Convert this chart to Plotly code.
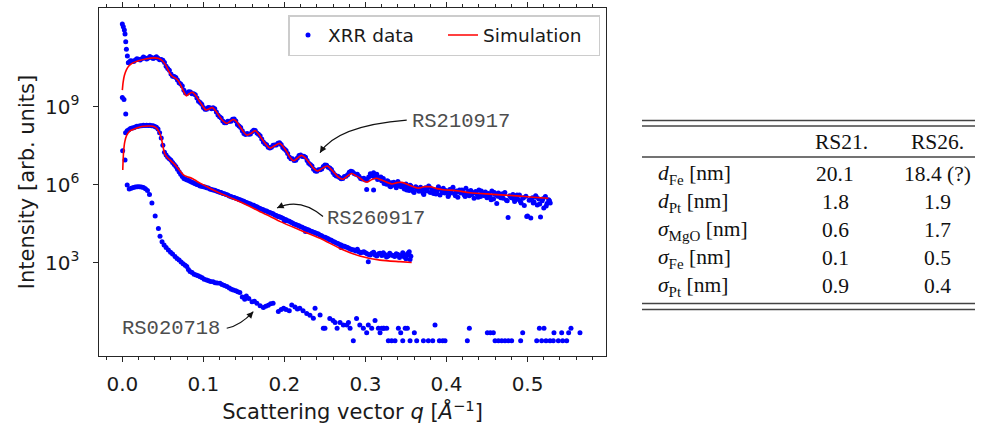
import math
import plotly.graph_objects as go

# ---------------------------------------------------------------- data
# all intensities are stored as log10(I)
rs21_spike_q = [0.000, 0.0012, 0.0025, 0.0033, 0.0042, 0.0050, 0.0062, 0.0074, 0.000, 0.002, 0.0042, 0.3015, 0.310]
rs21_spike_logI = [12.18, 12.08, 11.95, 11.80, 11.50, 11.21, 10.95, 10.69, 9.36, 9.28, 8.72, 5.82, 5.80]

rs21_q = [0.008, 0.012, 0.016, 0.020, 0.024, 0.028, 0.032, 0.036, 0.040, 0.044,
          0.048, 0.052, 0.056, 0.060, 0.064, 0.068, 0.072, 0.076, 0.080, 0.084,
          0.088, 0.092, 0.096, 0.100, 0.104, 0.108, 0.112, 0.116, 0.120, 0.124,
          0.128, 0.132, 0.136, 0.140, 0.144, 0.148, 0.152, 0.156, 0.160, 0.164,
          0.168, 0.172, 0.176, 0.180, 0.184, 0.188, 0.192, 0.196, 0.200, 0.204,
          0.208, 0.212, 0.216, 0.220, 0.224, 0.228, 0.232, 0.236, 0.240, 0.244,
          0.248, 0.252, 0.256, 0.260, 0.264, 0.268, 0.272, 0.276, 0.280, 0.284,
          0.288, 0.292, 0.296, 0.300, 0.304]
rs21_logI = [10.70, 10.76, 10.80, 10.83, 10.85, 10.88, 10.88, 10.90, 10.89, 10.87,
             10.82, 10.70, 10.47, 10.26, 10.16, 10.03, 9.88, 9.64, 9.52, 9.57,
             9.50, 9.34, 9.16, 8.97, 8.90, 8.96, 8.96, 8.80, 8.62, 8.45,
             8.38, 8.44, 8.52, 8.45, 8.26, 8.08, 7.93, 7.94, 8.04, 8.09,
             7.94, 7.76, 7.58, 7.44, 7.44, 7.53, 7.60, 7.55, 7.37, 7.20,
             7.00, 6.93, 7.03, 7.14, 7.10, 6.93, 6.78, 6.60, 6.52, 6.58,
             6.70, 6.75, 6.64, 6.47, 6.34, 6.28, 6.24, 6.33, 6.48, 6.50,
             6.40, 6.33, 6.22, 6.18, 6.30]

rs21_mid_q = [0.010, 0.014, 0.018, 0.022, 0.026, 0.030, 0.034, 0.038, 0.042, 0.046,
              0.050, 0.054, 0.058, 0.062, 0.066, 0.070, 0.074, 0.078, 0.082, 0.086,
              0.090, 0.094, 0.098, 0.102, 0.106, 0.110, 0.114, 0.118, 0.122, 0.126,
              0.130, 0.134, 0.138, 0.142, 0.146, 0.150, 0.154, 0.158, 0.162, 0.166,
              0.170, 0.174, 0.178, 0.182, 0.186, 0.190, 0.194, 0.198, 0.202, 0.206,
              0.210, 0.214, 0.218, 0.222, 0.226, 0.230, 0.234, 0.238, 0.242, 0.246,
              0.250, 0.254, 0.258, 0.262, 0.266, 0.270, 0.274, 0.278, 0.282, 0.286,
              0.290, 0.294, 0.298, 0.302]
rs21_mid_logI = [10.77, 10.74, 10.85, 10.80, 10.91, 10.84, 10.93, 10.86, 10.92, 10.81,
                 10.79, 10.56, 10.40, 10.17, 10.13, 9.92, 9.80, 9.53, 9.58, 9.50,
                 9.46, 9.21, 9.10, 8.90, 8.97, 8.92, 8.92, 8.68, 8.57, 8.38,
                 8.44, 8.44, 8.53, 8.32, 8.20, 7.97, 7.97, 7.95, 8.10, 7.99,
                 7.88, 7.64, 7.54, 7.41, 7.52, 7.53, 7.62, 7.43, 7.32, 7.07,
                 7.00, 6.94, 7.12, 7.09, 7.06, 6.83, 6.72, 6.53, 6.58, 6.61,
                 6.76, 6.67, 6.59, 6.38, 6.33, 6.23, 6.32, 6.38, 6.52, 6.43,
                 6.40, 6.24, 6.25, 6.20]

rs21_tail_q = [0.306, 0.308, 0.310, 0.312, 0.314, 0.316, 0.318, 0.320, 0.322, 0.324,
               0.326, 0.328, 0.330, 0.332, 0.334, 0.336, 0.338, 0.340, 0.342, 0.344,
               0.346, 0.348, 0.350, 0.352, 0.354, 0.356, 0.358, 0.360, 0.362, 0.364,
               0.366, 0.368, 0.370, 0.372, 0.374, 0.376, 0.378, 0.380, 0.382, 0.384,
               0.386, 0.388, 0.390, 0.392, 0.394, 0.396, 0.398, 0.400, 0.402, 0.404,
               0.406, 0.408, 0.410, 0.412, 0.414, 0.416, 0.418, 0.420, 0.422, 0.424,
               0.426, 0.428, 0.430, 0.432, 0.434, 0.436, 0.438, 0.440, 0.442, 0.444,
               0.446, 0.448, 0.450, 0.452, 0.454, 0.456, 0.458, 0.460, 0.462, 0.464,
               0.466, 0.468, 0.470, 0.472, 0.474, 0.476, 0.478, 0.480, 0.482, 0.484,
               0.486, 0.488, 0.490, 0.492, 0.494, 0.496, 0.498, 0.500, 0.502, 0.504,
               0.506, 0.508, 0.510, 0.512, 0.514, 0.516, 0.518, 0.520, 0.522, 0.524,
               0.526, 0.528]
rs21_tail_logI = [6.42, 6.38, 6.46, 6.33, 6.40, 6.28, 6.22, 6.15, 6.24, 6.10,
                  6.02, 6.12, 5.95, 6.08, 5.98, 6.05, 5.88, 6.12, 6.00, 5.92,
                  5.98, 5.84, 6.03, 5.90, 5.78, 5.95, 5.86, 5.70, 5.92, 5.82,
                  5.75, 5.90, 5.80, 5.62, 5.88, 5.76, 5.95, 5.70, 5.84, 5.66,
                  5.80, 5.72, 5.92, 5.60, 5.78, 5.86, 5.68, 5.74, 5.55, 5.82,
                  5.70, 5.90, 5.64, 5.76, 5.52, 5.80, 5.68, 5.73, 5.60, 5.86,
                  5.66, 5.58, 5.78, 5.70, 5.48, 5.74, 5.62, 5.80, 5.55, 5.68,
                  5.60, 5.72, 5.50, 5.66, 5.58, 5.76, 5.45, 5.62, 5.28, 5.68,
                  5.55, 5.64, 5.48, 5.70, 5.40, 4.74, 5.58, 5.50, 5.62, 5.35,
                  5.52, 5.44, 5.60, 5.30, 5.48, 5.20, 5.56, 4.80, 5.40, 4.72,
                  5.50, 5.34, 5.58, 5.22, 5.45, 4.76, 5.38, 5.10, 5.55, 5.28,
                  5.42, 5.30]

rs21_tail2_q = [0.307, 0.311, 0.315, 0.319, 0.323, 0.327, 0.331, 0.335, 0.339, 0.343,
                0.347, 0.351, 0.355, 0.359, 0.363, 0.367, 0.371, 0.375, 0.379, 0.383,
                0.387, 0.391, 0.395, 0.399, 0.403, 0.407, 0.411, 0.415, 0.419, 0.423,
                0.427, 0.431, 0.435, 0.439, 0.443, 0.447, 0.451, 0.455, 0.459, 0.463,
                0.467, 0.471, 0.475, 0.479, 0.483, 0.487, 0.491, 0.495, 0.499, 0.503,
                0.507, 0.511, 0.515, 0.519, 0.523, 0.527]
rs21_tail2_logI = [6.35, 6.30, 6.20, 6.30, 6.05, 6.15, 5.92, 6.10, 5.95, 6.02,
                   5.90, 5.80, 5.98, 5.74, 5.88, 5.85, 5.68, 5.82, 5.90, 5.72,
                   5.64, 5.85, 5.70, 5.78, 5.62, 5.84, 5.58, 5.72, 5.80, 5.55,
                   5.74, 5.62, 5.68, 5.52, 5.76, 5.58, 5.64, 5.42, 5.70, 5.56,
                   5.50, 5.66, 5.38, 5.55, 5.46, 5.60, 5.36, 5.50, 4.78, 5.42,
                   5.30, 5.52, 5.26, 5.46, 5.18, 5.38]

rs21_sim_q = [0.000, 0.001, 0.0025, 0.005, 0.008, 0.012, 0.020, 0.030, 0.039, 0.045,
              0.049, 0.0535, 0.057, 0.060, 0.063, 0.066, 0.069, 0.072, 0.0755, 0.079,
              0.0825, 0.0864, 0.0905, 0.0946, 0.099, 0.103, 0.107, 0.111, 0.115, 0.119,
              0.124, 0.1285, 0.133, 0.137, 0.141, 0.145, 0.149, 0.1535, 0.159, 0.164,
              0.168, 0.172, 0.177, 0.182, 0.188, 0.194, 0.198, 0.203, 0.207, 0.211,
              0.216, 0.221, 0.226, 0.2316, 0.236, 0.2406, 0.247, 0.253, 0.258, 0.2624,
              0.267, 0.272, 0.2775, 0.283, 0.288, 0.293, 0.2975, 0.302, 0.308, 0.3135,
              0.320, 0.3324, 0.339, 0.345, 0.355, 0.365, 0.372, 0.380, 0.388, 0.396,
              0.4126, 0.429, 0.458, 0.4866, 0.507, 0.5256]
rs21_sim_logI = [9.64, 9.95, 10.20, 10.42, 10.57, 10.67, 10.77, 10.85, 10.88, 10.86,
                 10.78, 10.60, 10.38, 10.22, 10.14, 10.09, 10.00, 9.83, 9.60, 9.42,
                 9.50, 9.56, 9.43, 9.24, 9.03, 8.88, 8.92, 8.97, 8.85, 8.67,
                 8.46, 8.36, 8.44, 8.51, 8.43, 8.24, 8.06, 7.91, 7.98, 8.08,
                 7.95, 7.77, 7.56, 7.41, 7.50, 7.59, 7.48, 7.26, 7.05, 6.92,
                 7.02, 7.13, 7.02, 6.81, 6.63, 6.53, 6.64, 6.72, 6.58, 6.43,
                 6.28, 6.21, 6.33, 6.43, 6.35, 6.26, 6.15, 6.10, 6.20, 6.25,
                 6.18, 6.03, 6.08, 6.09, 5.97, 5.87, 5.92, 5.92, 5.85, 5.81,
                 5.77, 5.69, 5.63, 5.57, 5.52, 5.48]

rs26_q = [0.0004, 0.0033,
          0.004, 0.008, 0.012, 0.016, 0.020, 0.024, 0.028, 0.032, 0.036, 0.040,
          0.044, 0.048, 0.052, 0.056, 0.060, 0.064, 0.068, 0.072, 0.076, 0.080,
          0.084, 0.088, 0.092, 0.096, 0.100, 0.104, 0.108, 0.112, 0.116, 0.120,
          0.124, 0.128, 0.132, 0.136, 0.140, 0.144, 0.148, 0.152, 0.156, 0.160,
          0.164, 0.168, 0.172, 0.176, 0.180, 0.184, 0.188, 0.192, 0.196, 0.200,
          0.204, 0.208, 0.212, 0.216, 0.220, 0.224, 0.228, 0.232, 0.236, 0.240,
          0.244, 0.248, 0.252, 0.256, 0.260, 0.264, 0.268, 0.272, 0.276, 0.280,
          0.284, 0.288, 0.292, 0.296, 0.300, 0.304, 0.308, 0.312, 0.316, 0.320,
          0.324, 0.328, 0.332, 0.336, 0.340, 0.344, 0.348, 0.352, 0.356,
          0.200, 0.226, 0.270, 0.290, 0.3035, 0.310, 0.322, 0.330, 0.338, 0.346,
          0.350, 0.354, 0.355]
rs26_logI = [7.31, 6.95,
             8.00, 8.12, 8.18, 8.22, 8.25, 8.27, 8.28, 8.28, 8.27, 8.24,
             8.14, 7.80, 7.25, 7.06, 6.94, 6.78, 6.60, 6.40, 6.24, 6.18,
             6.12, 6.07, 6.01, 5.95, 5.92, 5.88, 5.84, 5.80, 5.76, 5.71,
             5.66, 5.62, 5.57, 5.52, 5.48, 5.43, 5.38, 5.33, 5.28, 5.22,
             5.17, 5.11, 5.06, 5.00, 4.95, 4.90, 4.84, 4.78, 4.74, 4.67,
             4.61, 4.56, 4.49, 4.44, 4.38, 4.33, 4.28, 4.22, 4.17, 4.12,
             4.06, 3.99, 3.95, 3.88, 3.82, 3.76, 3.70, 3.64, 3.60, 3.55,
             3.50, 3.45, 3.42, 3.40, 3.38, 3.32, 3.36, 3.30, 3.34, 3.28,
             3.32, 3.26, 3.30, 3.24, 3.32, 3.27, 3.22, 3.35, 3.25,
             4.60, 4.20, 3.58, 3.52, 3.04, 3.40, 3.38, 3.36, 3.34, 3.38,
             3.15, 3.42, 3.12]

rs26_mid_q = [0.006, 0.010, 0.014, 0.018, 0.022, 0.026, 0.030, 0.034, 0.038, 0.042,
              0.046, 0.050, 0.054, 0.058, 0.062, 0.066, 0.070, 0.074, 0.078, 0.082,
              0.086, 0.090, 0.094, 0.098, 0.102, 0.106, 0.110, 0.114, 0.118, 0.122,
              0.126, 0.130, 0.134, 0.138, 0.142, 0.146, 0.150, 0.154, 0.158, 0.162,
              0.166, 0.170, 0.174, 0.178, 0.182, 0.186, 0.190, 0.194, 0.198, 0.202,
              0.206, 0.210, 0.214, 0.218, 0.222, 0.226, 0.230, 0.234, 0.238, 0.242,
              0.246, 0.250, 0.254, 0.258, 0.262, 0.266, 0.270, 0.274, 0.278, 0.282,
              0.286, 0.290, 0.294, 0.298, 0.302, 0.306, 0.310, 0.314, 0.318, 0.322,
              0.326, 0.330, 0.334, 0.338, 0.342, 0.346, 0.350, 0.354]
rs26_mid_logI = [8.08, 8.16, 8.19, 8.25, 8.27, 8.29, 8.29, 8.29, 8.27, 8.21,
                 8.00, 7.52, 7.14, 7.00, 6.86, 6.70, 6.50, 6.32, 6.21, 6.16,
                 6.10, 6.04, 5.99, 5.94, 5.91, 5.87, 5.82, 5.79, 5.74, 5.70,
                 5.65, 5.60, 5.55, 5.51, 5.46, 5.41, 5.36, 5.31, 5.26, 5.21,
                 5.15, 5.09, 5.04, 4.99, 4.93, 4.88, 4.82, 4.77, 4.71, 4.65,
                 4.59, 4.53, 4.47, 4.42, 4.36, 4.31, 4.26, 4.20, 4.15, 4.10,
                 4.04, 3.98, 3.92, 3.86, 3.80, 3.74, 3.68, 3.63, 3.58, 3.52,
                 3.49, 3.46, 3.38, 3.42, 3.34, 3.30, 3.38, 3.26, 3.36, 3.30,
                 3.22, 3.34, 3.28, 3.30, 3.20, 3.33, 3.28, 3.30]

rs26_sim_q = [0.0005, 0.0015, 0.003, 0.0055, 0.010, 0.016, 0.024, 0.032, 0.038, 0.0425,
              0.046, 0.0486, 0.0506, 0.0527, 0.056, 0.059, 0.063, 0.067, 0.0715, 0.0753,
              0.080, 0.0856, 0.090, 0.0959, 0.104, 0.120, 0.137, 0.1535, 0.170, 0.182,
              0.195, 0.219, 0.244, 0.2686, 0.293, 0.318, 0.3426, 0.357]
rs26_sim_logI = [6.57, 7.25, 7.65, 7.91, 8.08, 8.16, 8.24, 8.26, 8.25, 8.17,
                 7.98, 7.72, 7.40, 7.17, 7.03, 6.95, 6.83, 6.69, 6.52, 6.38,
                 6.31, 6.25, 6.17, 6.06, 5.93, 5.68, 5.45, 5.22, 4.96, 4.79,
                 4.58, 4.26, 3.94, 3.55, 3.26, 3.10, 3.04, 3.01]

rs02_q = [0.0060, 0.0085, 0.0110, 0.0135, 0.0160, 0.0185, 0.0210, 0.0235, 0.0260, 0.0285,
          0.0310, 0.0335, 0.0365, 0.0405, 0.0445, 0.0465, 0.0490, 0.0515, 0.0540, 0.0568,
          0.0595, 0.0620, 0.0650, 0.0675, 0.0700, 0.0725, 0.0750, 0.0775, 0.0795, 0.0815,
          0.0835, 0.0860, 0.0885, 0.0910, 0.0935, 0.0960, 0.0985, 0.1010, 0.1040, 0.1065,
          0.1090, 0.1120, 0.1145, 0.1170, 0.1205, 0.1230, 0.1260, 0.1290, 0.1320, 0.1345,
          0.1370, 0.1400, 0.1425, 0.1450, 0.1480, 0.1510, 0.1530, 0.1560, 0.1600, 0.1630,
          0.1660, 0.1700, 0.1740, 0.1770, 0.1800, 0.1830, 0.1860, 0.1925, 0.1960, 0.1990,
          0.2020, 0.2060, 0.2090, 0.2130, 0.2160, 0.2190, 0.2230, 0.2275, 0.2315, 0.2357,
          0.2378, 0.2440, 0.2480, 0.2500, 0.2560, 0.2600, 0.2625, 0.2650, 0.2686, 0.2727,
          0.2770, 0.2790, 0.2810, 0.2850, 0.2890, 0.2930, 0.2974, 0.3015, 0.3035, 0.3077,
          0.3118, 0.3159, 0.3220,
          0.3180, 0.3200, 0.3229, 0.3262, 0.3282, 0.3323, 0.3365, 0.3406, 0.3435, 0.3460,
          0.3490, 0.3517, 0.3550, 0.3603, 0.3632, 0.3715, 0.3776, 0.3830, 0.3858, 0.3912,
          0.3953, 0.3982, 0.4257, 0.4282, 0.4504, 0.4541, 0.4578, 0.4599, 0.4640, 0.4681,
          0.4722, 0.4763, 0.4804, 0.4915, 0.4940, 0.5113, 0.5146, 0.5174, 0.5203, 0.5228,
          0.5277, 0.5318, 0.5326, 0.5380, 0.5421, 0.5433, 0.5483, 0.5507, 0.5536, 0.5647]
rs02_logI = [5.99, 5.84, 5.86, 5.89, 5.91, 5.92, 5.92, 5.91, 5.89, 5.85,
             5.78, 5.62, 5.30, 4.80, 4.32, 4.02, 3.81, 3.68, 3.58, 3.49,
             3.40, 3.33, 3.24, 3.16, 3.10, 3.03, 2.96, 2.90, 2.85, 2.74,
             2.66, 2.62, 2.56, 2.53, 2.50, 2.46, 2.42, 2.36, 2.33, 2.31,
             2.28, 2.27, 2.23, 2.22, 2.21, 2.16, 2.12, 2.08, 2.03, 1.98,
             1.95, 1.92, 1.88, 1.85, 1.68, 1.59, 1.72, 1.62, 1.50, 1.52,
             1.44, 1.34, 1.28, 1.32, 1.36, 1.42, 1.44, 1.12, 1.20, 1.25,
             1.20, 1.15, 1.37, 1.30, 1.22, 1.25, 1.15, 1.05, 0.98, 0.86,
             1.25, 0.99, 0.48, 0.48, 0.85, 0.78, 0.70, 0.48, 0.70, 0.60,
             0.60, 0.70, 0.48, 0.00, 0.85, 0.60, 0.48, 0.30, 0.60, 0.48,
             0.78, 0.48, 0.48,
             0.301, 0.477, 0.477, 0.477, 0.0, 0.0, 0.0, 0.477, 0.301, 0.0,
             0.477, 0.477, 0.0, 0.301, 0.0, 0.0, 0.0, 0.0, 0.602, 0.0,
             0.0, 0.0, 0.0, 0.477, 0.301, 0.301, 0.301, 0.0, 0.0, 0.0,
             0.0, 0.0, 0.0, 0.0, 0.301, 0.0, 0.477, 0.0, 0.477, 0.0,
             0.0, 0.0, 0.301, 0.0, 0.301, 0.0, 0.0, 0.301, 0.477, 0.301]

y_tick_exponents = [3, 6, 9]
x_tick_values = [0.0, 0.1, 0.2, 0.3, 0.4, 0.5]

table_header = ["RS21.", "RS26."]
table_rows = ["<i>d</i><sub>Fe</sub> [nm]", "<i>d</i><sub>Pt</sub> [nm]",
              "<i>σ</i><sub>MgO</sub> [nm]", "<i>σ</i><sub>Fe</sub> [nm]",
              "<i>σ</i><sub>Pt</sub> [nm]"]
table_rs21 = ["20.1", "1.8", "0.6", "0.1", "0.9"]
table_rs26 = ["18.4 (?)", "1.9", "1.7", "0.5", "0.4"]

# ---------------------------------------------------------------- geometry
W, H = 986, 433
PL, PR, PT, PB = 99, 606, 8, 356
X_RANGE = (-0.0288, 0.5968)
Y_RANGE = (-0.59, 12.80)   # log10 units


def pow10(vals):
    return [10 ** v for v in vals]


def paper_x(q):
    return (q - X_RANGE[0]) / (X_RANGE[1] - X_RANGE[0])


def paper_y(L):
    return (L - Y_RANGE[0]) / (Y_RANGE[1] - Y_RANGE[0])


def to_pix(q, L):
    return PL + paper_x(q) * (PR - PL), PB - paper_y(L) * (PB - PT)


def pix_to_paper(x, y):
    return (x - PL) / (PR - PL), (PB - y) / (PB - PT)


BLUE = "#0000ff"
RED = "#ff0000"

fig = go.Figure()

marker = dict(color=BLUE, size=5, line=dict(width=0))
blue_sets = [
    (rs21_spike_q + rs21_q + rs21_mid_q + rs21_tail_q + rs21_tail2_q,
     rs21_spike_logI + rs21_logI + rs21_mid_logI + rs21_tail_logI + rs21_tail2_logI),
    (rs26_q + rs26_mid_q, rs26_logI + rs26_mid_logI),
    (rs02_q, rs02_logI),
]
for i, (qq, ll) in enumerate(blue_sets):
    fig.add_trace(go.Scatter(x=qq, y=pow10(ll), mode="markers", marker=marker,
                             name="XRR data", legendgroup="data", showlegend=(i == 0)))

red_sets = [(rs21_sim_q, rs21_sim_logI), (rs26_sim_q, rs26_sim_logI)]
for i, (qq, ll) in enumerate(red_sets):
    fig.add_trace(go.Scatter(x=qq, y=pow10(ll), mode="lines",
                             line=dict(color=RED, width=1.6, shape="spline", smoothing=0.8),
                             name="Simulation", legendgroup="sim", showlegend=(i == 0)))

AX_COLOR = "#262626"
fig.update_xaxes(range=list(X_RANGE), tickvals=x_tick_values,
                 ticktext=["%.1f" % v for v in x_tick_values],
                 ticks="outside", ticklen=5, tickwidth=1.2, tickcolor=AX_COLOR,
                 minor=dict(dtick=0.02, ticks="outside", ticklen=3, tickwidth=1, tickcolor=AX_COLOR),
                 showline=True, linecolor=AX_COLOR, linewidth=1.3, mirror="ticks",
                 showgrid=False, zeroline=False, ticklabelstandoff=5,
                 tickfont=dict(size=20, color="#1a1a1a"),
                 title=dict(text="Scattering vector <i>q</i> [<i>Å</i><sup>−1</sup>]",
                            font=dict(size=21, color="#1a1a1a"), standoff=9))
fig.update_yaxes(type="log", range=list(Y_RANGE),
                 tickvals=[10 ** e for e in y_tick_exponents],
                 ticktext=["10<sup>%d</sup>" % e for e in y_tick_exponents],
                 ticks="outside", ticklen=4.5, tickwidth=1.2, tickcolor=AX_COLOR,
                 showline=True, linecolor=AX_COLOR, linewidth=1.3, mirror=True,
                 showgrid=False, zeroline=False, ticklabelstandoff=10,
                 tickfont=dict(size=20, color="#1a1a1a"),
                 title=dict(text="Intensity [arb. units]",
                            font=dict(size=21, color="#1a1a1a"), standoff=4))

lx, ly = pix_to_paper(288, 15)
fig.update_layout(
    width=W, height=H,
    margin=dict(l=PL, r=W - PR, t=PT, b=H - PB, autoexpand=False),
    plot_bgcolor="white", paper_bgcolor="white",
    font=dict(family="DejaVu Sans", size=20, color="#1a1a1a"),
    legend=dict(x=lx, y=ly, xanchor="left", yanchor="top", orientation="h",
                bgcolor="white", bordercolor="#cccccc", borderwidth=1.5,
                entrywidth=110, entrywidthmode="pixels",
                font=dict(size=18.5, color="#1a1a1a")),
)

# ---------------------------------------------------------------- labels with curved arrows
labels = [
    dict(text="RS210917", at=(0.4179, 8.45), start=(0.3509, 8.488), ctrl=(0.2649, 8.273), end=(0.2439, 7.231)),
    dict(text="RS260917", at=(0.3124, 4.70), start=(0.2476, 4.777), ctrl=(0.2193, 5.527), end=(0.1909, 5.104)),
    dict(text="RS020718", at=(0.0601, 0.477), start=(0.1288, 0.477), ctrl=(0.1452, 0.565), end=(0.1616, 1.115)),
]
shapes = []
annotations = []
for lab in labels:
    annotations.append(dict(text=lab["text"], x=paper_x(lab["at"][0]), y=paper_y(lab["at"][1]),
                            xref="paper", yref="paper", showarrow=False,
                            xanchor="center", yanchor="middle",
                            font=dict(family="Liberation Mono, monospace", size=20.5, color="#4d4d4d")))
    x0, y0 = paper_x(lab["start"][0]), paper_y(lab["start"][1])
    cx, cy = paper_x(lab["ctrl"][0]), paper_y(lab["ctrl"][1])
    x1, y1 = paper_x(lab["end"][0]), paper_y(lab["end"][1])
    shapes.append(dict(type="path", xref="paper", yref="paper",
                       path="M %.5f,%.5f Q %.5f,%.5f %.5f,%.5f" % (x0, y0, cx, cy, x1, y1),
                       line=dict(color="#111111", width=1.2)))
    ex, ey = to_pix(*lab["end"])
    kx, ky = to_pix(*lab["ctrl"])
    d = math.hypot(kx - ex, ky - ey)
    annotations.append(dict(text="", x=x1, y=y1, xref="paper", yref="paper",
                            showarrow=True, arrowhead=2, arrowsize=1.1, arrowwidth=1.2,
                            arrowcolor="#111111", standoff=0,
                            ax=(kx - ex) / d * 7, ay=(ky - ey) / d * 7))

# ---------------------------------------------------------------- table
TFONT = dict(family="Liberation Serif, serif", size=21.5, color="#111111")
for ypix in (120.5, 126, 157, 303.5, 309.5):
    xa, ya = pix_to_paper(642, ypix)
    xb, _ = pix_to_paper(975, ypix)
    shapes.append(dict(type="line", xref="paper", yref="paper", x0=xa, x1=xb, y0=ya, y1=ya,
                       line=dict(color="#444444", width=1.5)))

for txt, xc in zip(table_header, (841, 937)):
    px_, py_ = pix_to_paper(xc, 142)
    annotations.append(dict(text=txt, x=px_, y=py_, xref="paper", yref="paper", showarrow=False,
                            xanchor="center", yanchor="middle", font=TFONT))
row_y = [174, 202, 230, 258, 286]
for lab, v1, v2, yc in zip(table_rows, table_rs21, table_rs26, row_y):
    px_, py_ = pix_to_paper(656, yc)
    annotations.append(dict(text=lab, x=px_, y=py_, xref="paper", yref="paper", showarrow=False,
                            xanchor="left", yanchor="middle", font=TFONT))
    for v, xc in ((v1, 835), (v2, 937)):
        px_, py_ = pix_to_paper(xc, yc)
        annotations.append(dict(text=v, x=px_, y=py_, xref="paper", yref="paper", showarrow=False,
                                xanchor="center", yanchor="middle", font=TFONT))

fig.update_layout(shapes=shapes, annotations=annotations)
fig.write_html("out.html")
